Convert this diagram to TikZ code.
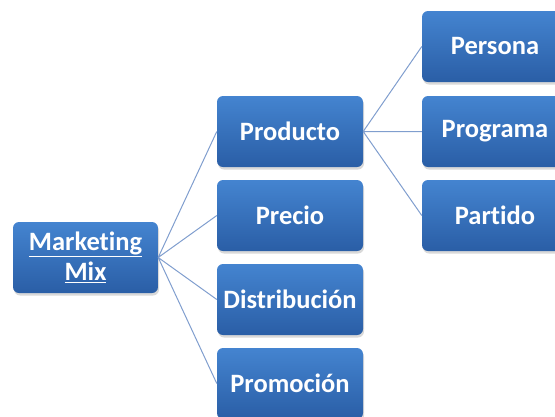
\documentclass[tikz,border=0pt]{standalone}
\usepackage{fontspec}
\setmainfont[Ligatures=NoCommon]{Carlito}
\usetikzlibrary{shadows}
\definecolor{boxtop}{RGB}{68,132,208}
\definecolor{boxbot}{RGB}{42,94,166}
\definecolor{linkblue}{RGB}{128,158,206}

\begin{document}
\begin{tikzpicture}[x=1pt,y=-1pt,
	mbox/.style={rectangle,rounded corners=6pt,
		minimum width=146pt,minimum height=71pt,
		top color=boxtop,bottom color=boxbot,
		text=white,align=center,
		font=\fontsize{26.5}{30}\selectfont\bfseries,
		drop shadow={opacity=.3,shadow xshift=1pt,shadow yshift=-2.5pt}},
	link/.style={draw=linkblue,line width=1pt}]

	\useasboundingbox (0,0) rectangle (555,416);
	\clip (0,0) rectangle (555,416);

	\coordinate (O0) at (85.5,257.5); % marketing mix
	\coordinate (O1) at (290,131.5);
	\coordinate (O2) at (290,215.5);
	\coordinate (O3) at (290,299.5);
	\coordinate (O4) at (290,383.5);
	\coordinate (P1) at (495,46.5);
	\coordinate (P2) at (495,131.5);
	\coordinate (P3) at (495,215.5);

	\node[mbox,minimum width=145pt] (mix) at (O0)
		{\underline{Marketing}\\\underline{Mix}};

	\node[mbox] (producto) at (O1) {Producto};
	\node[mbox] (precio) at (O2) {Precio};
	\node[mbox] (distribucion) at (O3) {Distribución};
	\node[mbox] (promocion) at (O4) {Promoción};

	\node[mbox] (persona) at (P1) {Persona};
	\node[mbox] (programa) at (P2) {Programa};
	\node[mbox] (partido) at (P3) {Partido};

	\draw[link] (mix.east) -- (producto.west)
		(mix.east) -- (precio.west)
		(mix.east) -- (distribucion.west)
		(mix.east) -- (promocion.west);
	\draw[link] (producto.east) -- (persona.west)
		(producto.east) -- (programa.west)
		(producto.east) -- (partido.west);

\end{tikzpicture}
\end{document}
